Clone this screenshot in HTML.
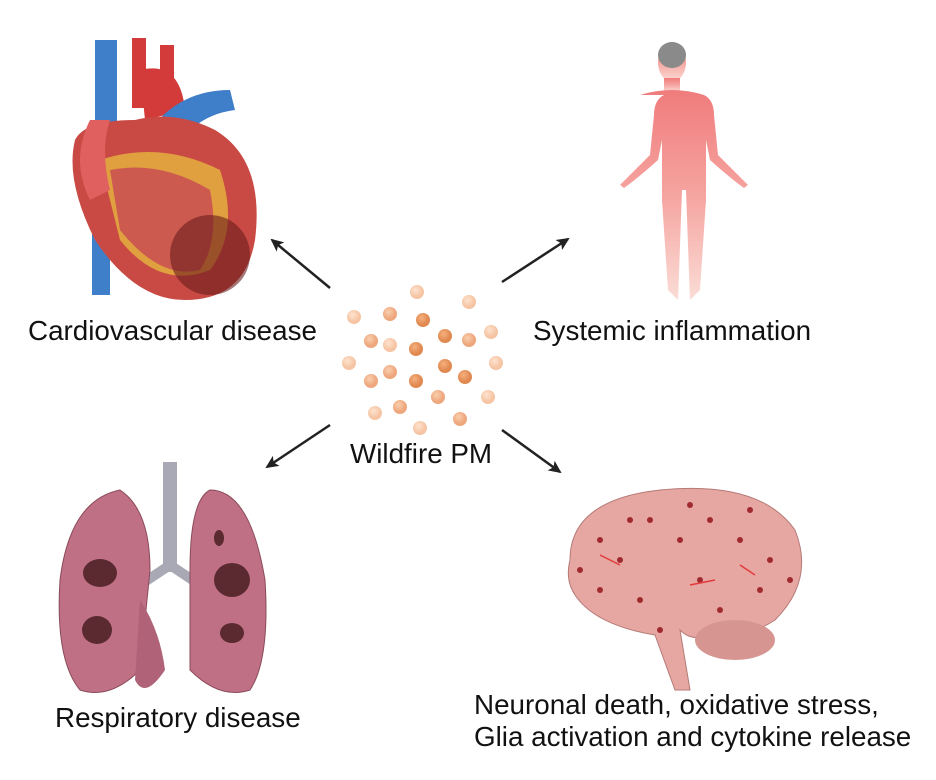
<!DOCTYPE html>
<html><head><style>
body{margin:0;background:#fff;width:936px;height:780px;overflow:hidden;font-family:"Liberation Sans",sans-serif}
svg{position:absolute;left:0;top:0}
text{font-family:"Liberation Sans",sans-serif;font-size:27.8px;fill:#111}
</style></head><body>
<svg width="936" height="780" viewBox="0 0 936 780">
<defs>
<radialGradient id="pl" cx="40%" cy="35%"><stop offset="0" stop-color="#fde3cf"/><stop offset="1" stop-color="#f6c4a3"/></radialGradient>
<radialGradient id="pm" cx="40%" cy="35%"><stop offset="0" stop-color="#f9cfae"/><stop offset="1" stop-color="#eea67c"/></radialGradient>
<radialGradient id="pd" cx="40%" cy="35%"><stop offset="0" stop-color="#f5b07e"/><stop offset="1" stop-color="#e08850"/></radialGradient>
<linearGradient id="bod" x1="0" y1="0" x2="0" y2="1"><stop offset="0" stop-color="#f07c7c"/><stop offset="0.5" stop-color="#f5a4a0"/><stop offset="1" stop-color="#fbdcd6"/></linearGradient>
<marker id="ah" markerWidth="14" markerHeight="14" refX="11" refY="7" orient="auto" markerUnits="userSpaceOnUse"><path d="M0,1 L13,7 L0,13 L3,7z" fill="#222"/></marker>
</defs>

<!-- Heart -->
<rect x="92" y="200" width="18" height="95" fill="#3f7ec8"/>
<path d="M95 40 h22 v110 h-22z" fill="#3f7ec8"/>
<path d="M132 38 h14 v70 h-14z M160 45 h14 v60 h-14z" fill="#d33a3a"/>
<path d="M140 70 q40 -10 45 40 l-40 10z" fill="#d33a3a"/>
<path d="M150 130 q30-40 80-40 l5 20 q-40 5 -60 40z" fill="#3f7ec8"/>
<path d="M75 140 q-10 40 20 100 q40 60 90 60 q60 0 70-60 q10-80-40-110 q-40-20-80-10 q-50 0-60 20z" fill="#c94a44"/>
<path d="M100 160 q60-20 120 10 q20 60 -10 100 q-50 20-90-30z" fill="#e0a040"/>
<path d="M110 170 q50-10 100 20 q10 50 -10 80 q-40 10-80-40z" fill="#cc5a4e"/>
<ellipse cx="210" cy="255" rx="40" ry="40" fill="#6a1d1d" opacity="0.6"/>
<path d="M90 120 q-20 40 0 80 l20-10 q-10-40 0-70z" fill="#e06060"/>

<!-- Body -->
<g fill="url(#bod)">
<ellipse cx="672" cy="62" rx="14" ry="20"/>
<rect x="664" y="78" width="16" height="14"/>
<path d="M640 95 q32-10 64 0 q10 5 10 20 l4 40 q20 20 30 30 l-4 3 q-14-10-34-28 l-4-20 v60 l-6 90 l-10 10 l-4-110 h-4 l-4 110 l-10-10 l-6-90 v-60 l-4 20 q-20 18-34 28 l-4-3 q10-10 30-30 l4-40 q0-15 10-20z"/>
</g>
<ellipse cx="672" cy="55" rx="14" ry="13" fill="#8a8a8a"/>

<!-- Lungs -->
<rect x="163" y="462" width="14" height="110" fill="#a9a9b5"/>
<path d="M170 565 l-30 20 M170 565 l30 20" stroke="#a9a9b5" stroke-width="10"/>
<path d="M120 490 q-50 10-60 90 q-5 80 20 110 q30 10 60-20 l10-100 q0-60-30-80z" fill="#c07085" stroke="#8a4a5a"/>
<path d="M210 490 q40 0 55 90 q5 80-15 110 q-30 10-60-20 l0-100 q0-70 20-80z" fill="#c07085" stroke="#8a4a5a"/>
<path d="M140 600 q20 30 25 70 q-20 30-30 10z" fill="#b06278"/>
<ellipse cx="100" cy="573" rx="17" ry="14" fill="#5a2a30"/>
<ellipse cx="97" cy="630" rx="15" ry="14" fill="#5a2a30"/>
<ellipse cx="232" cy="580" rx="18" ry="17" fill="#5a2a30"/>
<ellipse cx="232" cy="633" rx="12" ry="10" fill="#5a2a30"/>
<ellipse cx="219" cy="538" rx="5" ry="8" fill="#5a2a30"/>

<!-- Brain -->
<path d="M570 560 q0-60 90-70 q100-10 135 40 q20 50-20 90 q-30 20-60 10 q-20 15-35 0 l10 60 h-15 l-20-55 q-60-10-80-40 q-10-15-5-35z" fill="#e6a7a2" stroke="#b57a77"/>
<ellipse cx="735" cy="640" rx="40" ry="20" fill="#d69590"/>
<g fill="#a02a30">
<circle cx="600" cy="540" r="3"/><circle cx="620" cy="560" r="3"/><circle cx="650" cy="520" r="3"/><circle cx="680" cy="540" r="3"/><circle cx="710" cy="520" r="3"/><circle cx="740" cy="540" r="3"/><circle cx="770" cy="560" r="3"/><circle cx="600" cy="590" r="3"/><circle cx="640" cy="600" r="3"/><circle cx="700" cy="580" r="3"/><circle cx="760" cy="590" r="3"/><circle cx="790" cy="580" r="3"/><circle cx="660" cy="630" r="3"/><circle cx="720" cy="610" r="3"/><circle cx="580" cy="570" r="3"/><circle cx="690" cy="505" r="3"/><circle cx="630" cy="520" r="3"/><circle cx="750" cy="510" r="3"/>
</g>
<g stroke="#e23a3a" stroke-width="1.5"><path d="M600 555 l20 10 M690 585 l25 -5 M740 565 l15 10"/></g>

<!-- Particles -->
<g>
<circle cx="417" cy="292" r="7" fill="url(#pl)"/><circle cx="469" cy="302" r="7" fill="url(#pl)"/>
<circle cx="354" cy="317" r="7" fill="url(#pl)"/><circle cx="390" cy="314" r="7" fill="url(#pm)"/>
<circle cx="423" cy="320" r="7" fill="url(#pd)"/><circle cx="491" cy="332" r="7" fill="url(#pl)"/>
<circle cx="371" cy="341" r="7" fill="url(#pm)"/><circle cx="390" cy="345" r="7" fill="url(#pl)"/>
<circle cx="416" cy="349" r="7" fill="url(#pd)"/><circle cx="445" cy="336" r="7" fill="url(#pd)"/>
<circle cx="469" cy="340" r="7" fill="url(#pm)"/><circle cx="349" cy="363" r="7" fill="url(#pl)"/>
<circle cx="371" cy="381" r="7" fill="url(#pm)"/><circle cx="390" cy="372" r="7" fill="url(#pm)"/>
<circle cx="416" cy="381" r="7" fill="url(#pd)"/><circle cx="445" cy="366" r="7" fill="url(#pd)"/>
<circle cx="465" cy="377" r="7" fill="url(#pd)"/><circle cx="496" cy="363" r="7" fill="url(#pl)"/>
<circle cx="438" cy="397" r="7" fill="url(#pm)"/><circle cx="488" cy="397" r="7" fill="url(#pl)"/>
<circle cx="375" cy="413" r="7" fill="url(#pl)"/><circle cx="400" cy="407" r="7" fill="url(#pm)"/>
<circle cx="420" cy="428" r="7" fill="url(#pl)"/><circle cx="460" cy="419" r="7" fill="url(#pm)"/>
</g>

<!-- Arrows -->
<g stroke="#222" stroke-width="2.5" marker-end="url(#ah)">
<line x1="330" y1="288" x2="272" y2="240"/>
<line x1="502" y1="282" x2="568" y2="239"/>
<line x1="330" y1="425" x2="267" y2="467"/>
<line x1="502" y1="430" x2="560" y2="472"/>
</g>

<text x="28" y="340">Cardiovascular disease</text>
<text x="533" y="340">Systemic inflammation</text>
<text x="350" y="463">Wildfire PM</text>
<text x="55" y="727">Respiratory disease</text>
<text x="474" y="714">Neuronal death, oxidative stress,</text>
<text x="474" y="746">Glia activation and cytokine release</text>
</svg>
</body></html>
